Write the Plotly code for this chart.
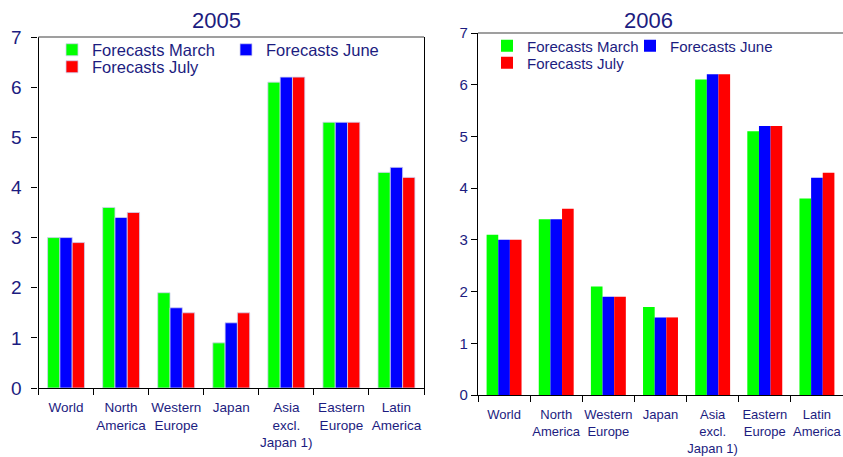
import plotly.graph_objects as go

W, H = 843, 457

categories = ["World", "North<br>America", "Western<br>Europe", "Japan",
              "Asia<br>excl.<br>Japan 1)", "Eastern<br>Europe", "Latin<br>America"]
series_names = ["Forecasts March", "Forecasts June", "Forecasts July"]
series_colors = ["#00ff00", "#0000ff", "#ff0000"]

march_2005 = [3.0, 3.6, 1.9, 0.9, 6.1, 5.3, 4.3]
june_2005 = [3.0, 3.4, 1.6, 1.3, 6.2, 5.3, 4.4]
july_2005 = [2.9, 3.5, 1.5, 1.5, 6.2, 5.3, 4.2]

march_2006 = [3.1, 3.4, 2.1, 1.7, 6.1, 5.1, 3.8]
june_2006 = [3.0, 3.4, 1.9, 1.5, 6.2, 5.2, 4.2]
july_2006 = [3.0, 3.6, 1.9, 1.5, 6.2, 5.2, 4.3]

y_ticks = [0, 1, 2, 3, 4, 5, 6, 7]

NAVY = "#1c1c80"
FONT = "Liberation Sans, Arial, sans-serif"

def px_x(p):
    return p / W

def px_y(p):
    return 1 - p / H

fig = go.Figure()

data_2005 = [march_2005, june_2005, july_2005]
data_2006 = [march_2006, june_2006, july_2006]

legend_ids_2005 = ["legend", "legend2", "legend3"]
legend_ids_2006 = ["legend4", "legend5", "legend6"]

for i, vals in enumerate(data_2005):
    fig.add_trace(go.Bar(
        x=categories, y=vals, name=series_names[i],
        marker=dict(color=series_colors[i], line=dict(color="#d0d0f0", width=0.8)),
        xaxis="x", yaxis="y", legend=legend_ids_2005[i], showlegend=True,
    ))
for i, vals in enumerate(data_2006):
    fig.add_trace(go.Bar(
        x=categories, y=vals, name=series_names[i],
        marker=dict(color=series_colors[i], line=dict(width=0)),
        xaxis="x2", yaxis="y2", legend=legend_ids_2006[i], showlegend=True,
    ))

axis_common = dict(showgrid=False, zeroline=False, showline=True, linecolor="black",
                   linewidth=1.2, ticks="outside", tickcolor="black", ticklen=6,
                   tickwidth=1, automargin=False)

fig.update_layout(
    template="none",
    width=W, height=H,
    margin=dict(l=0, r=0, t=0, b=0, autoexpand=False),
    paper_bgcolor="white", plot_bgcolor="white",
    showlegend=True,
    barmode="group", bargap=0.33, bargroupgap=0,
    font=dict(family=FONT, color=NAVY),
    xaxis=dict(domain=[px_x(38.5), px_x(424)], anchor="y", type="category",
               tickson="boundaries", mirror=False, tickangle=0, ticklabelstandoff=7,
               tickfont=dict(size=13.5, color=NAVY), **axis_common),
    yaxis=dict(domain=[px_y(388), px_y(37)], anchor="x", range=[0, 7],
               tickvals=y_ticks, mirror=True, ticklabelstandoff=6,
               tickfont=dict(size=19, color=NAVY), **axis_common),
    xaxis2=dict(domain=[px_x(478), 1.0], anchor="y2", type="category",
                tickson="boundaries", mirror=False, tickangle=0, ticklabelstandoff=7,
                tickfont=dict(size=13, color=NAVY), **axis_common),
    yaxis2=dict(domain=[px_y(395), px_y(33)], anchor="x2", range=[0, 7],
                tickvals=y_ticks, mirror=False,
                tickfont=dict(size=15, color=NAVY), **axis_common),
)

# top frame lines (gray)
fig.add_shape(type="line", xref="x domain", yref="y domain", x0=0, x1=1, y0=1, y1=1,
              line=dict(color="#7f7f7f", width=1.5))
fig.add_shape(type="line", xref="x2 domain", yref="y2 domain", x0=0, x1=1, y0=1, y1=1,
              line=dict(color="#7f7f7f", width=1.5))

# titles
fig.add_annotation(text="2005", x=px_x(216), y=px_y(21), xref="paper", yref="paper",
                   xanchor="center", yanchor="middle",
                   showarrow=False, font=dict(size=22, color=NAVY, family=FONT))
fig.add_annotation(text="2006", x=px_x(648), y=px_y(21), xref="paper", yref="paper",
                   xanchor="center", yanchor="middle",
                   showarrow=False, font=dict(size=22, color=NAVY, family=FONT))

# legends: (text start px, center y px, font size)
legend_pos = {
    "legend": (92, 50, 16.5),
    "legend2": (266, 50, 16.5),
    "legend3": (92, 67, 16.5),
    "legend4": (527, 46, 15),
    "legend5": (670, 46, 15),
    "legend6": (527, 63, 15),
}
for lid, (tx, cy, fs) in legend_pos.items():
    fig.update_layout({lid: dict(
        x=px_x(tx - 40), y=px_y(cy), xanchor="left", yanchor="middle",
        xref="paper", yref="paper", bgcolor="rgba(0,0,0,0)", borderwidth=0,
        font=dict(size=fs, color=NAVY, family=FONT), itemclick=False,
        itemdoubleclick=False, visible=True,
    )})

fig.write_html("out.html", config={"displayModeBar": False},
               post_script="document.body.style.margin='0';document.body.style.overflow='hidden';")
